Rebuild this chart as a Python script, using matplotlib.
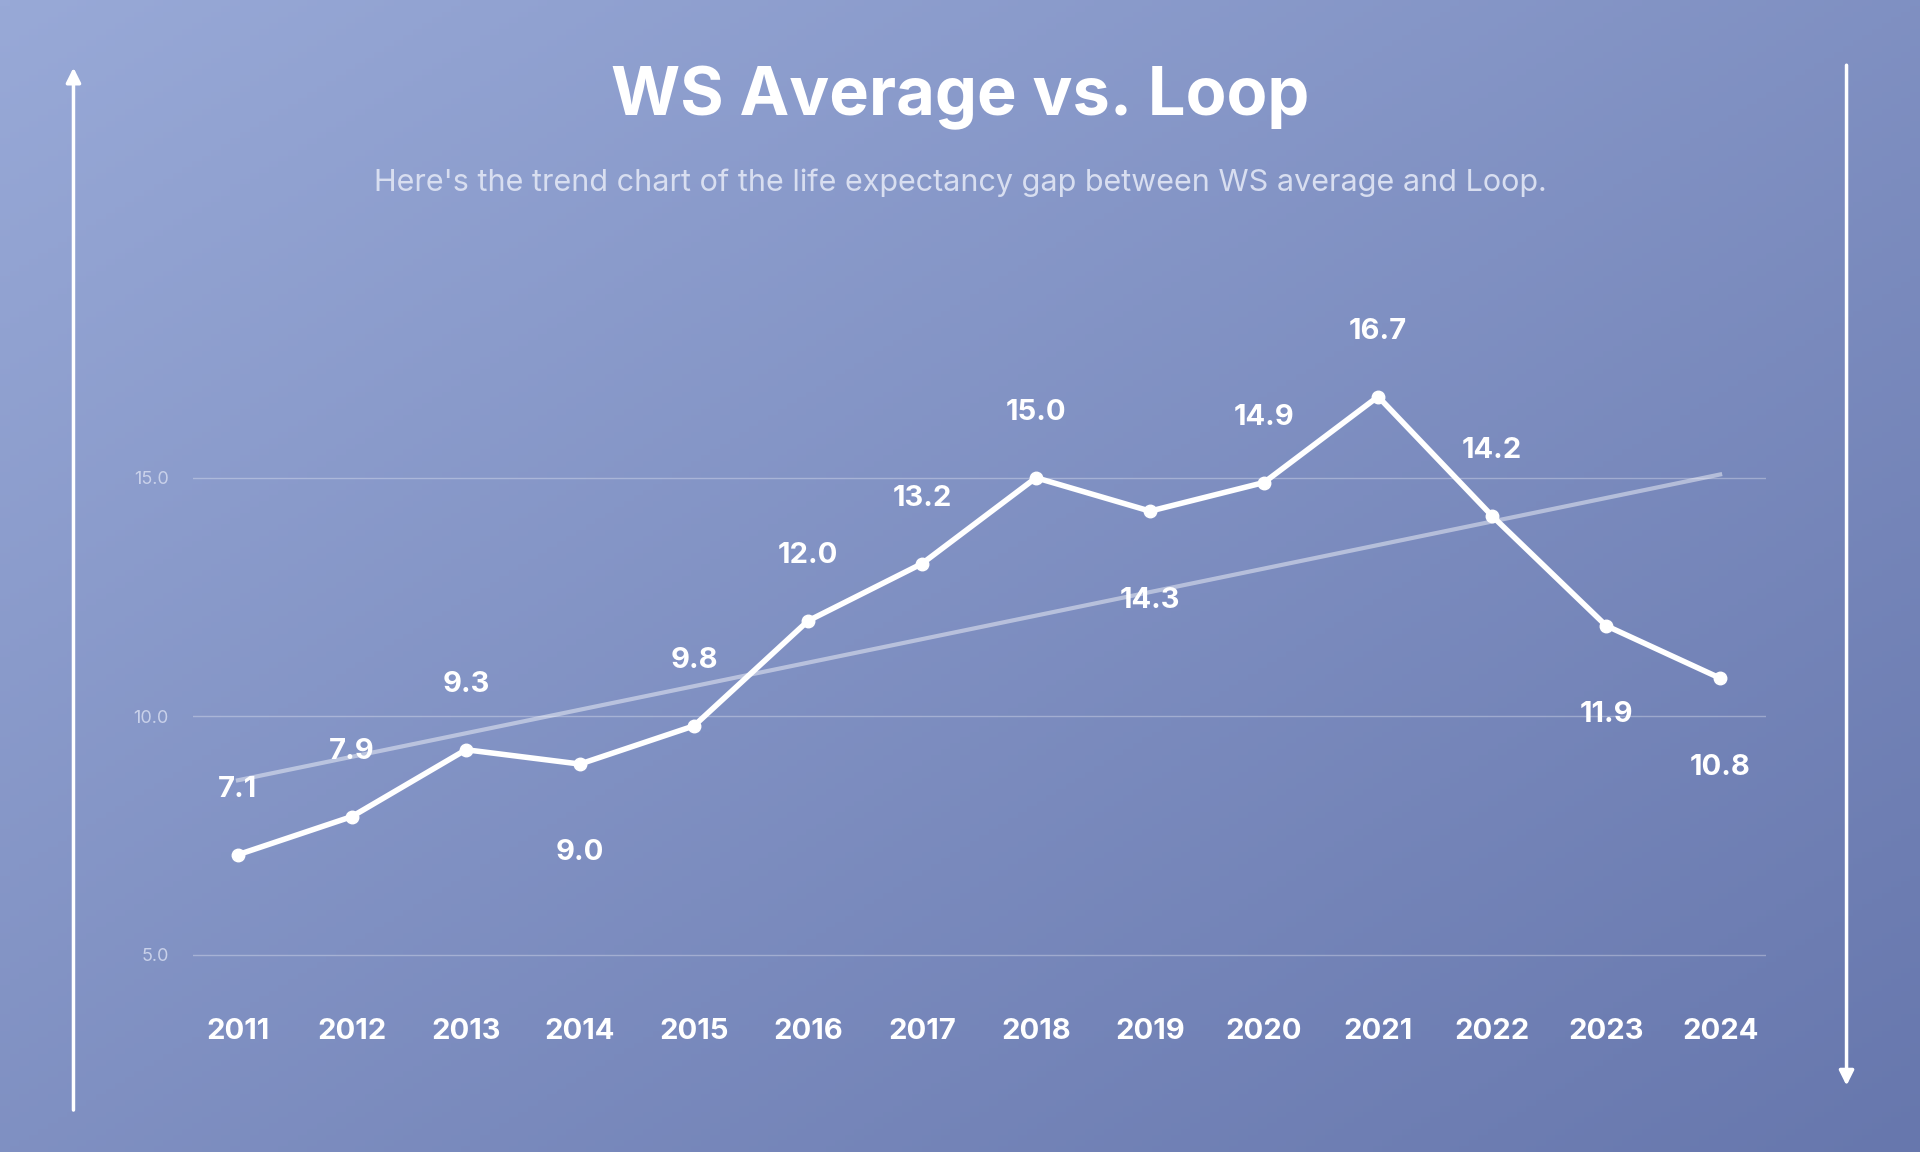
import numpy as np
import matplotlib.pyplot as plt

plt.rcParams['font.family'] = ['Inter', 'DejaVu Sans']

years = [2011, 2012, 2013, 2014, 2015, 2016, 2017, 2018, 2019, 2020, 2021, 2022, 2023, 2024]
values = [7.1, 7.9, 9.3, 9.0, 9.8, 12.0, 13.2, 15.0, 14.3, 14.9, 16.7, 14.2, 11.9, 10.8]
below = [2014, 2019, 2023, 2024]  # labels drawn under the point
yticks = [5.0, 10.0, 15.0]

fig = plt.figure(figsize=(19.2, 11.52), dpi=100)

# gradient background
bg = fig.add_axes([0, 0, 1, 1])
gx, gy = np.meshgrid(np.linspace(0, 1, 200), np.linspace(0, 1, 200))
t = (gx + gy) / 2
c0 = np.array([0x98, 0xa9, 0xd7]) / 255
c1 = np.array([0x67, 0x77, 0xad]) / 255
img = c0 + (c1 - c0) * t[..., None]
bg.imshow(img, aspect='auto', extent=[0, 1, 1, 0])
bg.set_axis_off()

# arrows at the sides
fig.patches  # keep figure-level drawing simple
bg.annotate('', xy=(60 / 1568, 888 / 941), xytext=(60 / 1568, 32 / 941),
            xycoords='axes fraction',
            arrowprops=dict(arrowstyle='-|>', color='white', lw=2.5, mutation_scale=22))
bg.annotate('', xy=(1508 / 1568, 52 / 941), xytext=(1508 / 1568, 890 / 941),
            xycoords='axes fraction',
            arrowprops=dict(arrowstyle='-|>', color='white', lw=2.5, mutation_scale=22))

fig.text(0.5, 1 - 80 / 941, 'WS Average vs. Loop', ha='center', va='center',
         color='white', fontsize=48, fontweight='bold')
fig.text(0.5, 1 - 149 / 941,
         "Here's the trend chart of the life expectancy gap between WS average and Loop.",
         ha='center', va='center', color='#d8def0', fontsize=22)

ax = fig.add_axes([158 / 1568, 0.0675, (1442 - 158) / 1568, 0.751 - 0.0675])
ax.patch.set_alpha(0)
ax.set_xlim(2010.61, 2024.40)
ax.set_ylim(2.5, 19)
for s in ax.spines.values():
    s.set_visible(False)
ax.set_yticks(yticks)
ax.set_yticklabels([f'{v:.1f}' for v in yticks])
ax.tick_params(axis='y', length=0, colors='#c9d1ea', labelsize=13, pad=18)
ax.set_xticks([])
ax.grid(axis='y', color='white', alpha=0.3, lw=1)

# trend line
k, b = np.polyfit(years, values, 1)
yrs = np.array(years)
ax.plot(yrs, k * yrs + b, color='white', alpha=0.45, lw=3)

ax.plot(years, values, color='white', lw=4, marker='o', markersize=9, zorder=3)

for yr, v in zip(years, values):
    off = -64 if yr in below else 47
    ax.annotate(f'{v:.1f}', (yr, v), xytext=(0, off), textcoords='offset points',
                ha='center', va='center', color='white', fontsize=21, fontweight='bold')
    ax.text(yr, 3.4, str(yr), ha='center', va='center', color='white',
            fontsize=21, fontweight='bold')

fig.savefig('out.png')
